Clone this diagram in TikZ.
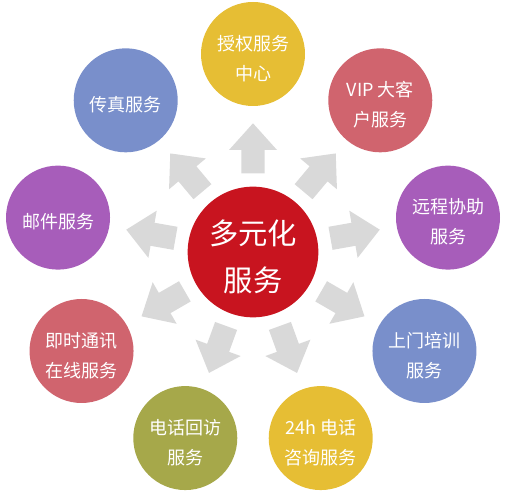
\documentclass[tikz,border=0pt]{standalone}
\usepackage{fontspec}
\setmainfont{Noto Sans CJK SC}
\usetikzlibrary{calc}
\definecolor{cyellow}{HTML}{E6BE34}
\definecolor{cpink}{HTML}{D0646E}
\definecolor{cpurple}{HTML}{A75DBA}
\definecolor{cblue}{HTML}{798FCB}
\definecolor{colive}{HTML}{A6A84A}
\definecolor{cred}{HTML}{C8141F}
\definecolor{cgray}{HTML}{D9D9D9}
\begin{document}
\begin{tikzpicture}[x=0.75pt,y=0.75pt,
  svc/.style={circle, minimum size=78pt, inner sep=0pt},
  svctext/.style={align=center, text=white, inner sep=0pt, yshift=-3.2pt,
    font=\fontsize{13.5}{22.5}\selectfont},
  hub/.style={circle, minimum size=98pt, inner sep=0pt, fill=cred},
  hubtext/.style={align=center, text=white, inner sep=0pt, yshift=-3.4pt,
    font=\fontsize{22}{35}\selectfont},
  blockarrow/.style={fill=cgray, draw=none}]
\useasboundingbox (0,0) rectangle (506,499);
\coordinate (c) at (253,247);
\foreach \a in {90,50,10,-30,-70,-110,-150,-190,-230}{
  \begin{scope}[shift={(c)}, rotate=\a]
    \fill[blockarrow] (78.7,-11.7) -- (102,-11.7) -- (102,-24) -- (128.7,0)
      -- (102,24) -- (102,11.7) -- (78.7,11.7) -- cycle;
  \end{scope}
}
\node[hub, label={[hubtext]center:多元化\\服务}] (hub) at (c) {};
\node[svc, fill=cyellow, label={[svctext]center:授权服务\\中心}] (s1) at ($(c)+(90:198)$) {};
\node[svc, fill=cpink,   label={[svctext]center:VIP 大客\\户服务}] (s2) at ($(c)+(50:198)$) {};
\node[svc, fill=cpurple, label={[svctext]center:远程协助\\服务}] (s3) at ($(c)+(10:198)$) {};
\node[svc, fill=cblue,   label={[svctext]center:上门培训\\服务}] (s4) at ($(c)+(-30:198)$) {};
\node[svc, fill=cyellow, label={[svctext]center:24h 电话\\咨询服务}] (s5) at ($(c)+(-70:198)$) {};
\node[svc, fill=colive,  label={[svctext]center:电话回访\\服务}] (s6) at ($(c)+(-110:198)$) {};
\node[svc, fill=cpink,   label={[svctext]center:即时通讯\\在线服务}] (s7) at ($(c)+(-150:198)$) {};
\node[svc, fill=cpurple, label={[svctext]center:邮件服务}] (s8) at ($(c)+(170:198)$) {};
\node[svc, fill=cblue,   label={[svctext]center:传真服务}] (s9) at ($(c)+(130:198)$) {};
\end{tikzpicture}
\end{document}
